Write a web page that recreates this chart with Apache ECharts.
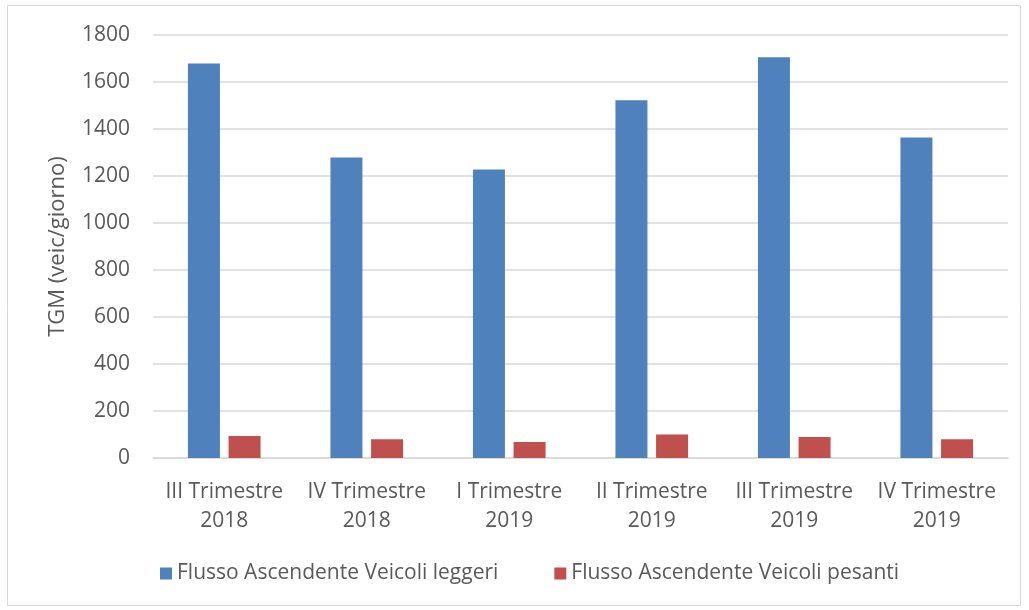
<!DOCTYPE html>
<html>
<head>
<meta charset="utf-8">
<script src="https://cdn.jsdelivr.net/npm/echarts@6/dist/echarts.min.js"></script>
<style>
  html, body { margin: 0; padding: 0; background: #fff; }
  #chart { width: 1029px; height: 610px; }
</style>
</head>
<body>
<div id="chart"></div>
<script>
// Quarterly traffic (TGM, vehicles per day), ascending direction
const categories = [
  'III Trimestre\n2018', 'IV Trimestre\n2018', 'I Trimestre\n2019',
  'II Trimestre\n2019', 'III Trimestre\n2019', 'IV Trimestre\n2019'
];
const lightVehicles = [1679, 1279, 1228, 1522, 1705, 1364];
const heavyVehicles = [94, 80, 68, 100, 89, 80];
const seriesNames = ['Flusso Ascendente Veicoli leggeri', 'Flusso Ascendente Veicoli pesanti'];
const yTicks = { min: 0, max: 1800, interval: 200 };

const FONT = '"Open Sans", "Noto Sans", sans-serif';
const TEXT = '#595959';

const chart = echarts.init(document.getElementById('chart'), null, { renderer: 'canvas' });
chart.setOption({
  animation: false,
  backgroundColor: '#ffffff',
  textStyle: { fontFamily: FONT },
  graphic: [{
    type: 'rect',
    shape: { x: 7.5, y: 5.5, width: 1013, height: 600 },
    style: { fill: 'none', stroke: '#d9d9d9', lineWidth: 1 },
    silent: true
  }],
  grid: { left: 153, right: 21, top: 35, bottom: 152 },
  legend: {
    left: 155, top: 558,
    itemWidth: 12, itemHeight: 12, itemGap: 56,
    icon: 'rect',
    textStyle: { fontFamily: FONT, fontSize: 21, color: TEXT },
    data: seriesNames
  },
  xAxis: {
    type: 'category',
    data: categories,
    axisLine: { show: true, lineStyle: { color: '#d9d9d9', width: 1.5 } },
    axisTick: { show: false },
    axisLabel: {
      interval: 0, margin: 20, color: TEXT,
      fontFamily: FONT, fontSize: 21, lineHeight: 29
    }
  },
  yAxis: {
    type: 'value',
    min: yTicks.min, max: yTicks.max, interval: yTicks.interval,
    name: 'TGM (veic/giorno)',
    nameLocation: 'middle', nameRotate: 90, nameGap: 84,
    nameTextStyle: { color: TEXT, fontFamily: FONT, fontSize: 22 },
    axisLine: { show: false },
    axisTick: { show: false },
    axisLabel: {
      color: TEXT, fontFamily: FONT, fontSize: 21, margin: 23,
      formatter: v => String(v)
    },
    splitLine: { lineStyle: { color: '#d9d9d9', width: 1.5 } }
  },
  series: [
    {
      name: seriesNames[0], type: 'bar', data: lightVehicles,
      barWidth: 32, barGap: '27%',
      itemStyle: { color: '#4f81bd' }
    },
    {
      name: seriesNames[1], type: 'bar', data: heavyVehicles,
      barWidth: 32, barGap: '27%',
      itemStyle: { color: '#c0504d' }
    }
  ]
});
</script>
</body>
</html>
